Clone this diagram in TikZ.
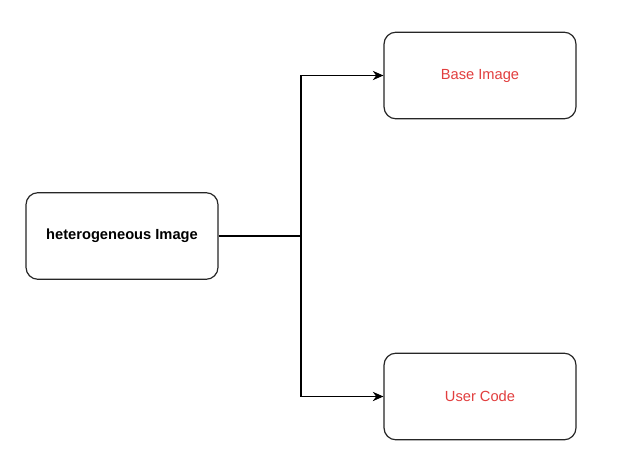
\documentclass[tikz,border=0pt]{standalone}
\usepackage{fontspec}
\setmainfont{Liberation Sans}
\usetikzlibrary{arrows.meta}
\definecolor{lblred}{RGB}{226,62,62}
\begin{document}
\begin{tikzpicture}[x=0.75pt,y=-0.75pt,
  box/.style={draw=black!85,line width=0.9pt,rounded corners=9pt,minimum width=144pt,minimum height=65pt,inner sep=0pt,font=\fontsize{11}{13}\selectfont},
  conn/.style={draw=black,line width=0.8pt},
  arr/.style={conn,-{Stealth[length=8pt,width=7pt]}}]
\useasboundingbox[fill=white] (0,0) rectangle (638,474);
\node[box,font=\fontsize{11}{13}\selectfont\bfseries] (het) at (122,236) {heterogeneous Image};
\node[box,text=lblred] (base) at (480,75.5) {Base Image};
\node[box,text=lblred] (user) at (480,396.5) {User Code};
\coordinate (j) at (301,236);
\draw[conn] (het.east) -- (j);
\draw[arr] (j) |- (base.west);
\draw[arr] (j) |- (user.west);
\end{tikzpicture}
\end{document}
